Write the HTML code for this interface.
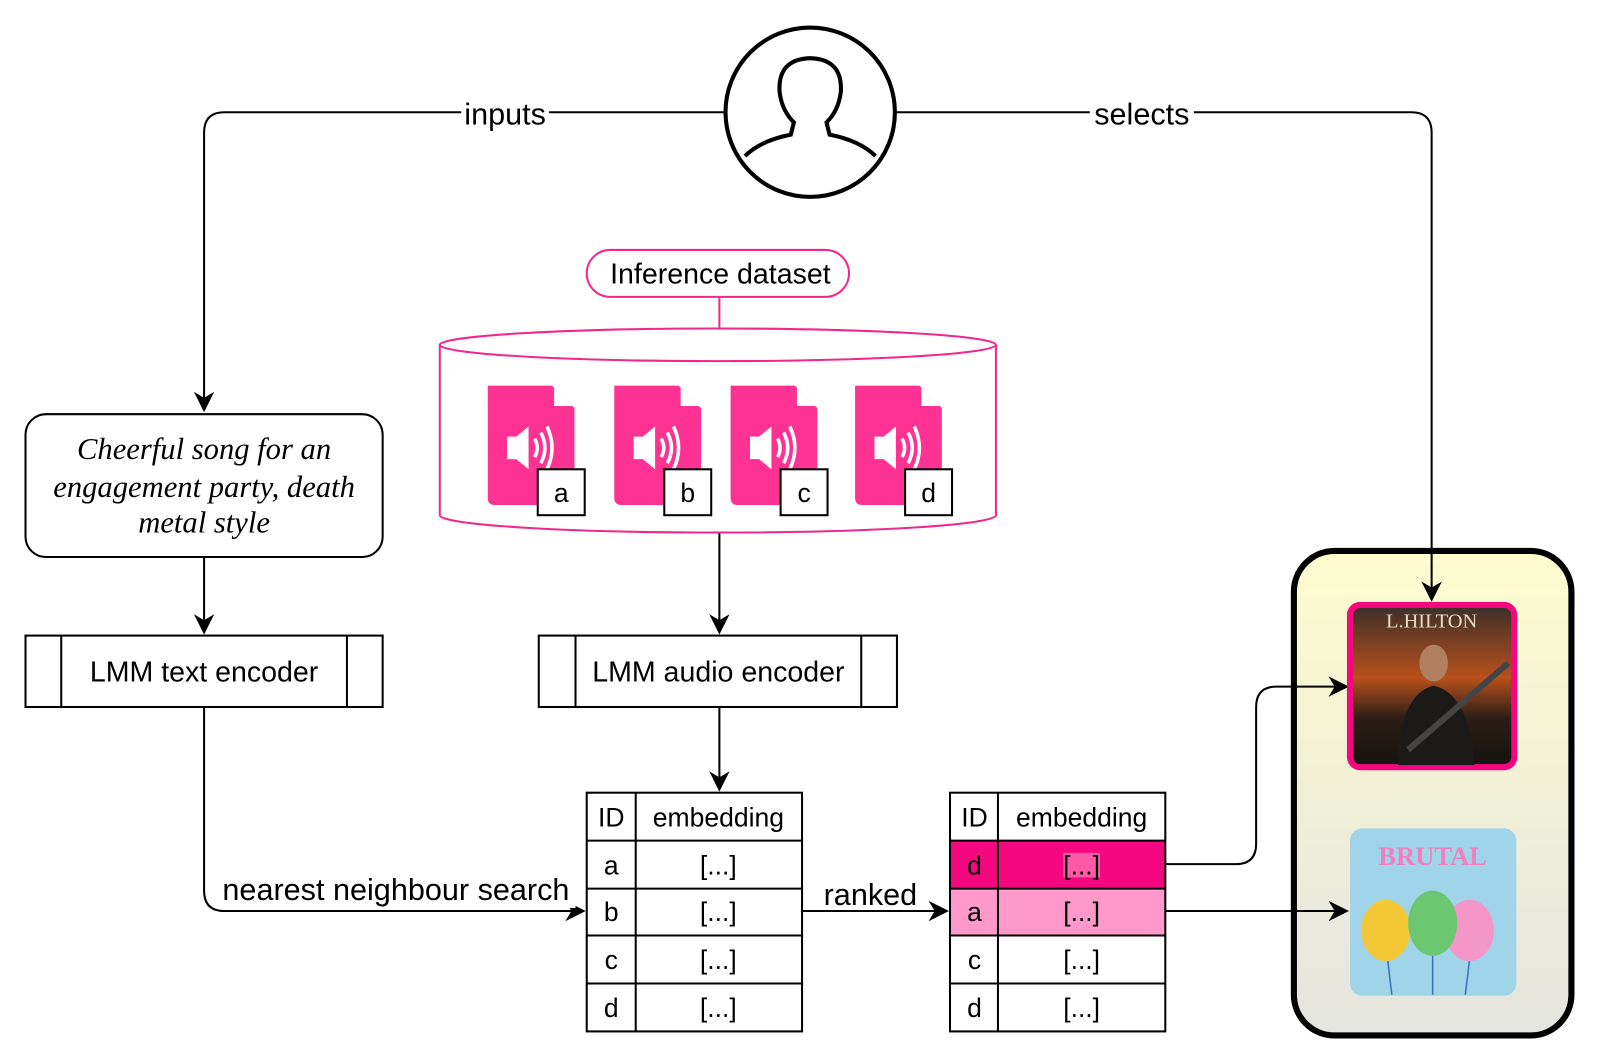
<!DOCTYPE html>
<html><head><meta charset="utf-8"><style>html,body{margin:0;padding:0;background:#fff}svg{display:block}</style></head>
<body>
<svg width="1600" height="1061" viewBox="0 0 1568 1040" preserveAspectRatio="none" xmlns="http://www.w3.org/2000/svg" font-family="Liberation Sans, sans-serif">
<defs>
<marker id="a2" viewBox="0 0 10 10" refX="9" refY="5" markerWidth="20" markerHeight="20" orient="auto" markerUnits="userSpaceOnUse"><path d="M0,0 L10,5 L0,10 L3,5 z" fill="#000"/></marker>
<linearGradient id="bg" x1="0" y1="0" x2="0" y2="1"><stop offset="0" stop-color="#fdfcce"/><stop offset="1" stop-color="#e4e4e0"/></linearGradient>
<linearGradient id="fire" x1="0" y1="0" x2="0" y2="1"><stop offset="0" stop-color="#3a2e28"/><stop offset="0.45" stop-color="#b8501c"/><stop offset="0.7" stop-color="#2a1d16"/><stop offset="1" stop-color="#151210"/></linearGradient>
</defs>
<rect x="1268" y="540" width="272" height="475" rx="40" fill="url(#bg)" stroke="#000" stroke-width="6"/>
<g fill="none" stroke="#000" stroke-width="2">
<path d="M711,110 H220 Q200,110 200,130 V402" marker-end="url(#a2)"/>
<path d="M877,110 H1383 Q1403,110 1403,130 V588" marker-end="url(#a2)"/>
<path d="M200,546 V620" marker-end="url(#a2)"/>
<path d="M705,522 V620" marker-end="url(#a2)"/>
<path d="M705,693 V774" marker-end="url(#a2)"/>
<path d="M200,693 V873 Q200,893 220,893 H572" marker-end="url(#a2)"/>
<path d="M786,893 H928" marker-end="url(#a2)"/>
<path d="M1142,847 H1211 Q1231,847 1231,827 V693 Q1231,673 1251,673 H1320" marker-end="url(#a2)"/>
<path d="M1142,893 H1320" marker-end="url(#a2)"/>
</g>
<circle cx="794" cy="110" r="83" fill="#fff" stroke="#000" stroke-width="4"/>
<path d="M730,153 Q745,138 775,132 L778,120 Q766,108 764,90 Q762,58 794,57 Q826,58 824,90 Q822,108 810,120 L813,132 Q843,138 858,153" fill="none" stroke="#000" stroke-width="4"/>
<rect x="452" y="94" width="86" height="34" fill="#fff"/>
<text x="495" y="122" font-size="30" text-anchor="middle">inputs</text>
<rect x="1068" y="94" width="102" height="34" fill="#fff"/>
<text x="1119" y="122" font-size="30" text-anchor="middle">selects</text>
<rect x="25" y="406" width="350" height="140" rx="20" fill="#fff" stroke="#000" stroke-width="2"/>
<g font-family="Liberation Serif, serif" font-style="italic" font-size="30" text-anchor="middle">
<text x="200" y="450">Cheerful song for an</text>
<text x="200" y="487">engagement party, death</text>
<text x="200" y="522">metal style</text>
</g>
<g fill="#fff" stroke="#000" stroke-width="2">
<rect x="25" y="623" width="350" height="70"/><line x1="60" y1="623" x2="60" y2="693"/><line x1="340" y1="623" x2="340" y2="693"/>
<rect x="528" y="623" width="351" height="70"/><line x1="564" y1="623" x2="564" y2="693"/><line x1="844" y1="623" x2="844" y2="693"/>
</g>
<text x="200" y="668" font-size="28" text-anchor="middle">LMM text encoder</text>
<text x="704" y="668" font-size="28" text-anchor="middle">LMM audio encoder</text>
<line x1="705" y1="291" x2="705" y2="326" stroke="#f0288c" stroke-width="2"/>
<rect x="575" y="245" width="257" height="46" rx="23" fill="#fff" stroke="#f0288c" stroke-width="2"/>
<text x="706" y="278" font-size="28" text-anchor="middle">Inference dataset</text>
<path d="M431,338 V505 A272.5,17 0 0 0 976,505 V338" fill="#fff" stroke="#f0288c" stroke-width="2"/>
<ellipse cx="703.5" cy="338" rx="272.5" ry="16" fill="#fff" stroke="#f0288c" stroke-width="2"/>
<g id="f">
<path d="M478,378 H541 L563,400 V488 Q563,495 556,495 H485 Q478,495 478,488 Z" fill="#fe3293"/>
<path d="M543,380 L561,398 H543 Z" fill="#fff"/>
<path d="M497,428 H506 L518,418 V460 L506,450 H497 Z" fill="#fff"/>
<g fill="none" stroke="#fff" stroke-width="3.5"><path d="M524,430 Q529,439 524,448"/><path d="M530,424 Q538,439 530,454"/><path d="M536,418 Q546,439 536,460"/></g>
</g>
<use href="#f" x="124"/><use href="#f" x="238"/><use href="#f" x="360"/>
<g fill="#fff" stroke="#000" stroke-width="2">
<rect x="527" y="460" width="46" height="45"/><rect x="651" y="460" width="46" height="45"/><rect x="765" y="460" width="46" height="45"/><rect x="887" y="460" width="46" height="45"/>
</g>
<g font-size="26" text-anchor="middle"><text x="550" y="492">a</text><text x="674" y="492">b</text><text x="788" y="492">c</text><text x="910" y="492">d</text></g>
<rect x="931" y="824" width="211" height="47" fill="#f5087f"/>
<rect x="1042" y="836" width="36" height="24" fill="#ff5aa8"/>
<rect x="931" y="871" width="211" height="46" fill="#ff99cc"/>
<g fill="none" stroke="#000" stroke-width="2">
<rect x="575" y="777" width="211" height="234"/><line x1="623" y1="777" x2="623" y2="1011"/>
<line x1="575" y1="824" x2="786" y2="824"/><line x1="575" y1="871" x2="786" y2="871"/><line x1="575" y1="917" x2="786" y2="917"/><line x1="575" y1="964" x2="786" y2="964"/>
<rect x="931" y="777" width="211" height="234"/><line x1="978" y1="777" x2="978" y2="1011"/>
<line x1="931" y1="824" x2="1142" y2="824"/><line x1="931" y1="871" x2="1142" y2="871"/><line x1="931" y1="917" x2="1142" y2="917"/><line x1="931" y1="964" x2="1142" y2="964"/>
</g>
<g font-size="26" text-anchor="middle">
<text x="599" y="810">ID</text><text x="704" y="810">embedding</text>
<text x="599" y="857">a</text><text x="704" y="857">[...]</text>
<text x="599" y="903">b</text><text x="704" y="903">[...]</text>
<text x="599" y="950">c</text><text x="704" y="950">[...]</text>
<text x="599" y="997">d</text><text x="704" y="997">[...]</text>
<text x="955" y="810">ID</text><text x="1060" y="810">embedding</text>
<text x="955" y="857">d</text><text x="1060" y="857">[...]</text>
<text x="955" y="903">a</text><text x="1060" y="903">[...]</text>
<text x="955" y="950">c</text><text x="1060" y="950">[...]</text>
<text x="955" y="997">d</text><text x="1060" y="997">[...]</text>
</g>
<rect x="212" y="854" width="352" height="36" fill="#fff"/>
<text x="388" y="882" font-size="30" text-anchor="middle">nearest neighbour search</text>
<text x="853" y="887" font-size="30" text-anchor="middle">ranked</text>
<rect x="1323" y="593" width="161" height="159" rx="10" fill="url(#fire)" stroke="#f5087f" stroke-width="6"/>
<text x="1403" y="615" font-size="20" fill="#e8dcc0" text-anchor="middle" font-family="Liberation Serif, serif">L.HILTON</text>
<ellipse cx="1405" cy="650" rx="14" ry="18" fill="#b08060"/>
<path d="M1370,750 Q1372,680 1405,672 Q1440,680 1445,750 Z" fill="#1c1a18"/>
<path d="M1380,735 L1478,650" stroke="#444" stroke-width="6"/>
<rect x="1323" y="812" width="163" height="164" rx="12" fill="#a0d4e8"/>
<text x="1404" y="848" font-size="26" fill="#f080c0" text-anchor="middle" font-weight="bold" font-family="Liberation Serif, serif">BRUTAL</text>
<ellipse cx="1358" cy="912" rx="24" ry="30" fill="#f5c838"/>
<ellipse cx="1440" cy="912" rx="24" ry="30" fill="#f596c8"/>
<ellipse cx="1404" cy="905" rx="24" ry="32" fill="#6cc870"/>
<g stroke="#3a70c0" stroke-width="1.5"><line x1="1360" y1="942" x2="1364" y2="975"/><line x1="1404" y1="937" x2="1404" y2="975"/><line x1="1440" y1="942" x2="1436" y2="975"/></g>
</svg>
</body></html>
